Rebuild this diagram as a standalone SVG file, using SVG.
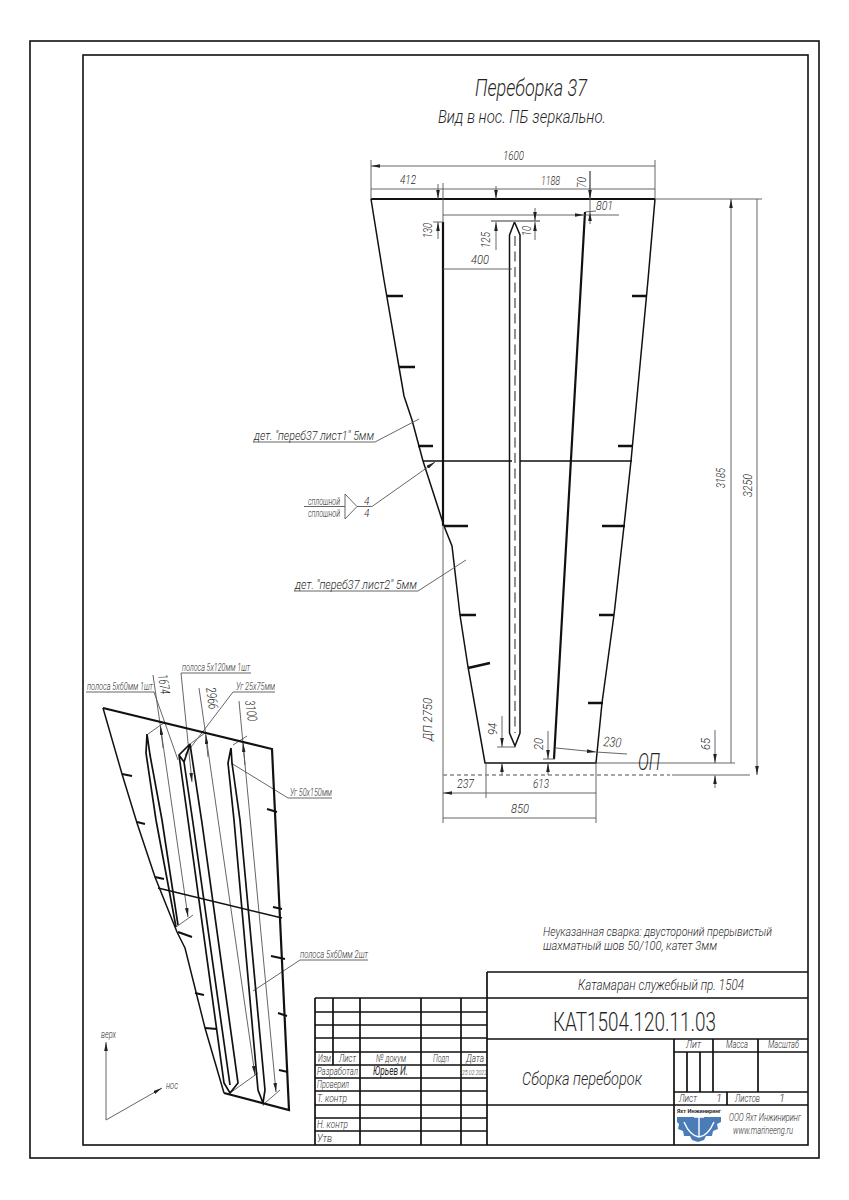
<svg xmlns="http://www.w3.org/2000/svg" width="849" height="1200" viewBox="0 0 849 1200">
<defs>
<marker id="a" viewBox="0 0 10 4" refX="10" refY="2" markerWidth="9" markerHeight="3.600" markerUnits="userSpaceOnUse" orient="auto-start-reverse"><path d="M0 0L10 2L0 4Z" fill="#222"/></marker>
</defs>
<style>
text{font-family:Roboto,"Liberation Sans",Arial,sans-serif;font-style:italic;font-weight:300;fill:#111;opacity:.92}
.th{fill:none;stroke:#111;stroke-width:2.2}
.m{fill:none;stroke:#111;stroke-width:1.500}
.t{fill:none;stroke:#555;stroke-width:.9}
.d{fill:none;stroke:#555;stroke-width:.9;marker-start:url(#a);marker-end:url(#a)}
.e{fill:none;stroke:#555;stroke-width:.9;marker-end:url(#a)}
.k{fill:none;stroke:#111;stroke-width:2.600}
.b{fill:none;stroke:#111;stroke-width:1.700}
.s{font-size:13.500px}.x{font-size:10px}.y{font-size:11px}
</style>
<rect width="849" height="1200" fill="#fff"/>
<g id="frame"><rect x="30" y="41" width="789" height="1117" fill="none" stroke="#111" stroke-width="1.600"/><rect x="83" y="55" width="725" height="1090" fill="none" stroke="#111" stroke-width="1.600"/></g>
<g id="titles">
<text x="475" y="96" font-size="24" textLength="112" lengthAdjust="spacingAndGlyphs">Переборка 37</text>
<text x="438" y="123" font-size="17.500" textLength="168" lengthAdjust="spacingAndGlyphs">Вид в нос. ПБ зеркально.</text>
</g>
<g id="section">
<path class="m" d="M371 199L384 280L399 367L404 396L412 420L423 461L444 526L452 546L460 615L468 667L485 763H596L602 703L614 615L624 526L631 461L648 280L655 199"/>
<path class="th" d="M371 199H655"/>
<path class="th" d="M443 222V526M585 212L554 759"/>
<path class="m" d="M509.500 235L514.500 222L520 235V733L515 746L509.500 733Z"/>
<path d="M515 236V733" stroke="#555" stroke-width="1.300" stroke-dasharray="10 5.500" fill="none"/>
<path class="m" stroke-width="1.200" d="M423 461H512M520 461H632"/>
<path class="k" d="M387 296H403M399 367H415M418 446H433M444 526H468M460 615H476M468 668L490 663M632 296H647M618 446H632M602 526H625M599 615H614M588 703H603"/>
</g>
<g id="connectors">
<path d="M491 221H540" stroke="#999" stroke-width="2" fill="none"/>
<path class="t" d="M371 160V199M655 160V199M443 183V222M433 222H443M590 171V212M655 199H762M596 763H735M443 525V823M486 763V798M596 763V823M497 747H515M543 759H555"/>
<path class="d" d="M371 166H655M371 189H443M443 189H655M443 269H512M443 215H584"/>
<path class="t" d="M584 215H619M585 212L596 211"/>
<path class="e" d="M438 239V222"/><path class="e" d="M438 184V199"/>
<path class="e" d="M496 186V199"/><path class="e" d="M496 250V222"/>
<path class="e" d="M535 208V221"/><path class="e" d="M535 240V222"/>
<path class="e" d="M590 171V199"/><path class="e" d="M590 224V212"/>
<path class="d" d="M731 199V763M757 199V775"/>
<path class="e" d="M715 730V763"/><path class="e" d="M715 788V775"/>
<path class="e" d="M502 716V747"/><path class="e" d="M502 776V763"/>
<path class="e" d="M548 731V759"/><path class="e" d="M548 775V763"/>
<path class="d" d="M443 793H486M486 793H596M443 818H596M556 748L596 752"/><path class="t" d="M596 752L627 754"/>
<path d="M443 775H670" stroke="#888" stroke-width="1.300" stroke-dasharray="4 3" fill="none"/>
<path d="M672 775H750" stroke="#999" stroke-width="1.600" fill="none"/>
<path class="t" d="M253 442H375L419 419M294 591H418L466 560M304 506.500H345M345 494V519L357 506.500Z"/>
<path class="e" d="M357 506.500H372L435 462"/>
<path class="e" d="M153 675L188 917"/>
<path class="e" d="M163 748L160.500 726"/>
<path class="t" d="M148 734L165 722M176 927L193 915M230 1093L258 1073M190 744L205 733M265 1103L280 1090M233 745L247 736"/>
<path class="e" d="M199 688L255 1075"/>
<path class="e" d="M208 757L205.800 735"/>
<path class="e" d="M239 701L276 1092"/>
<path class="e" d="M245 765L243 743"/>
<path class="t" d="M86 692H154L178 760M181 673H251M233 692H275M233 692L185 755M288 798H332M288 798L231 763M300 960H368M300 960L253 991"/>
<path class="e" d="M181 673L192 782"/>
</g>
<g id="section-labels">
<text class="s" x="503" y="160" textLength="21" lengthAdjust="spacingAndGlyphs">1600</text>
<text class="s" x="400" y="184" textLength="16" lengthAdjust="spacingAndGlyphs">412</text>
<text class="s" x="541" y="185" textLength="19" lengthAdjust="spacingAndGlyphs">1188</text>
<text class="s" x="596" y="210" textLength="17" lengthAdjust="spacingAndGlyphs">801</text>
<text class="s" x="471" y="264" textLength="18" lengthAdjust="spacingAndGlyphs">400</text>
<text class="s" transform="translate(586 188) rotate(-90)" textLength="11" lengthAdjust="spacingAndGlyphs">70</text>
<text class="s" transform="translate(432 238) rotate(-90)" textLength="15" lengthAdjust="spacingAndGlyphs">130</text>
<text class="s" transform="translate(490 248) rotate(-90)" textLength="16" lengthAdjust="spacingAndGlyphs">125</text>
<text class="s" transform="translate(531 236) rotate(-90)" textLength="10" lengthAdjust="spacingAndGlyphs">10</text>
<text class="s" transform="translate(725 488) rotate(-90)" textLength="20" lengthAdjust="spacingAndGlyphs">3185</text>
<text class="s" transform="translate(752 497) rotate(-90)" textLength="23" lengthAdjust="spacingAndGlyphs">3250</text>
<text class="s" transform="translate(710 750) rotate(-90)" textLength="12" lengthAdjust="spacingAndGlyphs">65</text>
<text class="s" transform="translate(497 735) rotate(-90)" textLength="12" lengthAdjust="spacingAndGlyphs">94</text>
<text class="s" transform="translate(543 750) rotate(-90)" textLength="12" lengthAdjust="spacingAndGlyphs">20</text>
<text class="s" transform="translate(432 741) rotate(-90)" textLength="43" lengthAdjust="spacingAndGlyphs">ДП 2750</text>
<text class="s" x="457" y="788" textLength="17" lengthAdjust="spacingAndGlyphs">237</text>
<text class="s" x="533" y="788" textLength="16" lengthAdjust="spacingAndGlyphs">613</text>
<text class="s" x="511" y="813" textLength="18" lengthAdjust="spacingAndGlyphs">850</text>
<text class="s" transform="translate(603 746) rotate(5)" textLength="18" lengthAdjust="spacingAndGlyphs">230</text>
<text x="638" y="770" font-size="23" textLength="22" lengthAdjust="spacingAndGlyphs">ОП</text>
<text class="s" x="254" y="440" textLength="120" lengthAdjust="spacingAndGlyphs">дет. "переб37 лист1" 5мм</text>
<text class="s" x="295" y="589" textLength="122" lengthAdjust="spacingAndGlyphs">дет. "переб37 лист2" 5мм</text>
<text class="x" x="308" y="505" textLength="32" lengthAdjust="spacingAndGlyphs">сплошной</text>
<text class="x" x="308" y="517" textLength="32" lengthAdjust="spacingAndGlyphs">сплошной</text>
<text class="x" x="364" y="505">4</text>
<text class="x" x="364" y="517">4</text>
<text class="s" x="543" y="936" textLength="229" lengthAdjust="spacingAndGlyphs">Неуказанная сварка: двустороний прерывистый</text>
<text class="s" x="543" y="950" textLength="174" lengthAdjust="spacingAndGlyphs">шахматный шов 50/100, катет 3мм</text>
</g>
<g id="isometric">
<path class="m" d="M103 708L122 774L137 823L155 877L177 932L185 948L205 1028L224 1093"/>
<path class="th" d="M103 708L272 749L289 1110L224 1093"/>
<path class="m" d="M158 888L282 918"/>
<path class="b" d="M147 734L146 753L156 820L176 927M147 734L150 755L162 820L178 925"/>
<path class="b" d="M190 744L179 755L188 820L224 1083L230 1093L238 1083L202 823L190 744M184 762L193 823L230 1085M179 755L184 762M190 744L184 762"/>
<path class="b" d="M231 748L228 763L234 820L258 1090L263 1103L265 1090L240 820L232 763L231 748"/>
<path class="k" style="stroke-width:2" d="M122 774L132 776M137 822L145 824M155 877L164 879M178 932L192 937M195 993L204 995M205 1028L217 1029M267 809L277 812M273 907L282 909M271 956L285 959M278 1013L287 1016M279 1070L288 1072"/>
<path class="e" d="M106 1120V1042"/>
<path class="e" d="M106 1120L162 1088"/>
</g>
<g id="iso-labels">
<text class="x" x="87" y="690" textLength="66" lengthAdjust="spacingAndGlyphs">полоса 5х60мм 1шт</text>
<text class="x" x="182" y="671" textLength="68" lengthAdjust="spacingAndGlyphs">полоса 5х120мм 1шт</text>
<text class="x" x="236" y="690" textLength="39" lengthAdjust="spacingAndGlyphs">Уг 25х75мм</text>
<text class="x" x="290" y="796" textLength="42" lengthAdjust="spacingAndGlyphs">Уг 50х150мм</text>
<text class="x" x="300" y="958" textLength="68" lengthAdjust="spacingAndGlyphs">полоса 5х60мм 2шт</text>
<text class="s" transform="translate(158 675) rotate(82)" textLength="20" lengthAdjust="spacingAndGlyphs">1674</text>
<text class="s" transform="translate(206 688) rotate(82)" textLength="22" lengthAdjust="spacingAndGlyphs">2966</text>
<text class="s" transform="translate(245 701) rotate(82)" textLength="21" lengthAdjust="spacingAndGlyphs">3100</text>
<text class="y" x="101" y="1038" textLength="15" lengthAdjust="spacingAndGlyphs">верх</text>
<text class="y" x="166" y="1089" textLength="12" lengthAdjust="spacingAndGlyphs">нос</text>
</g>
<g id="title-block">
<path class="b" d="M487 972H808M487 998H808M487 1039H808M487 1105H808M487 972V1145M674 1039V1145M674 1052H808M674 1092H808M687 1052V1092M700 1052V1092M713 1039V1092M758 1039V1092M727 1092V1105"/>
<path class="b" d="M315 998H487M315 1012H487M315 1025H487M315 1038H487M315 1052H487M315 1065H487M315 1078H487M315 1091H487M315 1105H487M315 1118H487M315 1131H487M315 998V1145M333 998V1065M360 998V1145M421 998V1145M461 998V1145"/>
<text x="578" y="990" font-size="15" textLength="166" lengthAdjust="spacingAndGlyphs">Катамаран служебный пр. 1504</text>
<text x="553" y="1031" font-size="25" style="font-style:normal" textLength="163" lengthAdjust="spacingAndGlyphs">КАТ1504.120.11.03</text>
<text x="522" y="1085" font-size="18" textLength="120" lengthAdjust="spacingAndGlyphs">Сборка переборок</text>
<text class="y" x="686" y="1048" textLength="15" lengthAdjust="spacingAndGlyphs">Лит</text>
<text class="y" x="726" y="1048" textLength="22" lengthAdjust="spacingAndGlyphs">Масса</text>
<text class="y" x="768" y="1048" textLength="31" lengthAdjust="spacingAndGlyphs">Масштаб</text>
<text class="y" x="679" y="1102" textLength="18" lengthAdjust="spacingAndGlyphs">Лист</text>
<text class="y" x="716" y="1102">1</text>
<text class="y" x="735" y="1102" textLength="25" lengthAdjust="spacingAndGlyphs">Листов</text>
<text class="y" x="779" y="1102">1</text>
<text class="y" x="318" y="1062" textLength="13" lengthAdjust="spacingAndGlyphs">Изм</text>
<text class="y" x="339" y="1062" textLength="17" lengthAdjust="spacingAndGlyphs">Лист</text>
<text class="y" x="376" y="1062" textLength="30" lengthAdjust="spacingAndGlyphs">№ докум</text>
<text class="y" x="433" y="1062" textLength="16" lengthAdjust="spacingAndGlyphs">Подп</text>
<text class="y" x="466" y="1062" textLength="18" lengthAdjust="spacingAndGlyphs">Дата</text>
<text class="y" x="317" y="1075" textLength="41" lengthAdjust="spacingAndGlyphs">Разработал</text>
<text class="y" x="317" y="1088" textLength="32" lengthAdjust="spacingAndGlyphs">Проверил</text>
<text class="y" x="317" y="1102" textLength="30" lengthAdjust="spacingAndGlyphs">Т. контр</text>
<text class="y" x="317" y="1128" textLength="31" lengthAdjust="spacingAndGlyphs">Н. контр</text>
<text class="y" x="317" y="1142" textLength="15" lengthAdjust="spacingAndGlyphs">Утв</text>
<text x="373" y="1075" font-size="12" style="font-weight:400" textLength="35" lengthAdjust="spacingAndGlyphs">Юрьев И.</text>
<text x="462" y="1075" font-size="7.500" textLength="25" lengthAdjust="spacingAndGlyphs">25.02.2022</text>
<text class="y" x="729" y="1121" textLength="72" lengthAdjust="spacingAndGlyphs">ООО Яхт Инжиниринг</text>
<text class="y" x="733" y="1134" textLength="60" lengthAdjust="spacingAndGlyphs">www.marineeng.ru</text>
<text x="677" y="1113" font-size="6" style="font-style:normal;font-weight:700" textLength="44" lengthAdjust="spacingAndGlyphs">Яхт Инжиниринг</text>
<path d="M677 1117H721V1122L717 1124L718 1129L713 1131L712 1136L706 1136L704 1140L698 1142L692 1140L690 1136L684 1136L683 1131L678 1129L679 1124L677 1122Z" fill="#4a7db8"/>
<path d="M699 1117V1137M684 1122Q690 1136 699 1137Q708 1136 714 1122M694 1117H704" stroke="#fff" stroke-width="1.400" fill="none"/>
</g>
</svg>
